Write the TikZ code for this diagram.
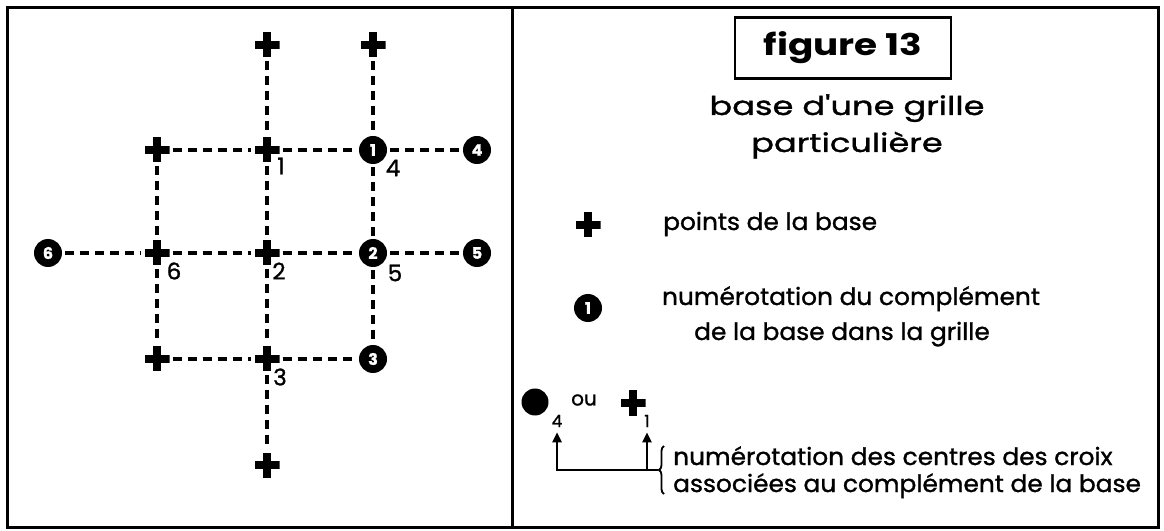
\documentclass[tikz,border=0pt]{standalone}
\usepackage{fontspec}
\setmainfont{Poppins}[FakeBold=1.2]
\newfontfamily\headfont{Poppins}[FakeStretch=1.3, FakeBold=1.2]
\newfontfamily\legendfont{Poppins}[FakeStretch=1.04, FakeBold=1.2]
\newfontfamily\titlefont{Poppins}[FakeStretch=1.25]
\usetikzlibrary{arrows.meta, positioning, calc, decorations.pathreplacing}

\begin{document}
\begin{tikzpicture}[
    x=1bp, y=-1bp,
    % Styles
    basept/.style={rectangle, minimum size=25bp, inner sep=0pt,
        path picture={
            \fill ([xshift=-12.5bp,yshift=-4bp]path picture bounding box.center) rectangle ++(25bp,8bp);
            \fill ([xshift=-4bp,yshift=-12.5bp]path picture bounding box.center) rectangle ++(8bp,25bp);
        }},
    compl/.style={circle, fill=black, text=white, minimum size=28bp, inner sep=0pt, font=\bfseries\fontsize{16}{16}\selectfont},
    numlbl/.style={inner sep=0pt, font=\fontsize{23}{23}\selectfont},
    gridline/.style={dash pattern=on 9bp off 6bp, line width=3.2bp, shorten <=3bp, shorten >=3bp},
    frame/.style={line width=3bp},
    legend/.style={inner sep=0pt, font=\legendfont\fontsize{24}{24}\selectfont},
    arrow/.style={-{Triangle[width=9bp,length=10bp]}, line width=2.4bp, shorten >=5bp}
]
\useasboundingbox (0,0) rectangle (1164,531);

% Frames
\draw[frame] (7,8) rectangle (1158,527);
\draw[frame] (512,8) -- (512,527);

% Grid: base points and complement
\node[basept] (t1) at (267,45) {};
\node[basept] (t2) at (373,45) {};
\node[basept] (a1) at (157,150) {};
\node[basept] (a2) at (267,150) {};
\node[compl] (c1) at (373,150) {1};
\node[compl] (c4) at (477,150) {4};
\node[compl] (c6) at (48,253) {6};
\node[basept] (b1) at (157,253) {};
\node[basept] (b2) at (267,253) {};
\node[compl] (c2) at (373,253) {2};
\node[compl] (c5) at (477,253) {5};
\node[basept] (d1) at (157,359) {};
\node[basept] (d2) at (267,359) {};
\node[compl] (c3) at (373,359) {3};
\node[basept] (bot) at (267,465) {};

% Dashed links
\foreach \u/\v in {a1/a2, a2/c1, c1/c4, c6/b1, b1/b2, b2/c2, c2/c5, d1/d2, d2/c3,
                   a1/b1, b1/d1, t1/a2, a2/b2, b2/d2, d2/bot, t2/c1, c1/c2, c2/c3}
    \draw[gridline] (\u) -- (\v);

% Cross centre numbers
\node[numlbl] (l1) at (281,166) {1};
\node[numlbl] (l2) at (279,271) {2};
\node[numlbl] (l3) at (280,377) {3};
\node[numlbl] (l4) at (393,168) {4};
\node[numlbl] (l5) at (395,273) {5};
\node[numlbl] (l6) at (174,271) {6};

% Title
\node[draw, line width=2.2bp, minimum width=216bp, minimum height=61bp,
      font=\titlefont\bfseries\fontsize{30}{30}\selectfont] (title) at (843,48) {figure 13};
\node[anchor=base, inner sep=0pt, font=\headfont\fontsize{26}{26}\selectfont] (head1) at (847,115) {base d'une grille};
\node[anchor=base, inner sep=0pt, font=\headfont\fontsize{26}{26}\selectfont] (head2) at (847,152) {particulière};

% Legend
\node[basept] (lgcross) at (588,225) {};
\node[legend, anchor=base west] (lgtxt1) at (663,230) {points de la base};
\node[compl] (lgcirc) at (588,308) {1};
\node[legend, anchor=base] (lgtxt2) at (851,305) {numérotation du complément};
\node[legend, anchor=base] (lgtxt3) at (842,340) {de la base dans la grille};

% Numbering example
\node[circle, fill=black, minimum size=27bp, inner sep=0pt] (excirc) at (535,402) {};
\node[numlbl, font=\fontsize{17}{17}\selectfont] (ex4) at (557,421) {4};
\node[inner sep=0pt, font=\fontsize{20}{20}\selectfont] (exou) at (584,400) {ou};
\node[basept] (excross) at (633,403) {};
\node[numlbl, font=\fontsize{17}{17}\selectfont] (ex1) at (647,421) {1};
\coordinate (bmid) at (658,470);
\draw[arrow] (bmid) -| (ex4.south);
\draw[arrow] (ex1.south |- bmid) -- (ex1.south);
\draw[line width=1.8bp, decorate, decoration={brace, amplitude=5bp}] (664,494) -- (664,446);
\node[legend, anchor=base west] (lgtxt4) at (673,465) {numérotation des centres des croix};
\node[legend, anchor=base west] (lgtxt5) at (673,492) {associées au complément de la base};

\end{tikzpicture}
\end{document}
